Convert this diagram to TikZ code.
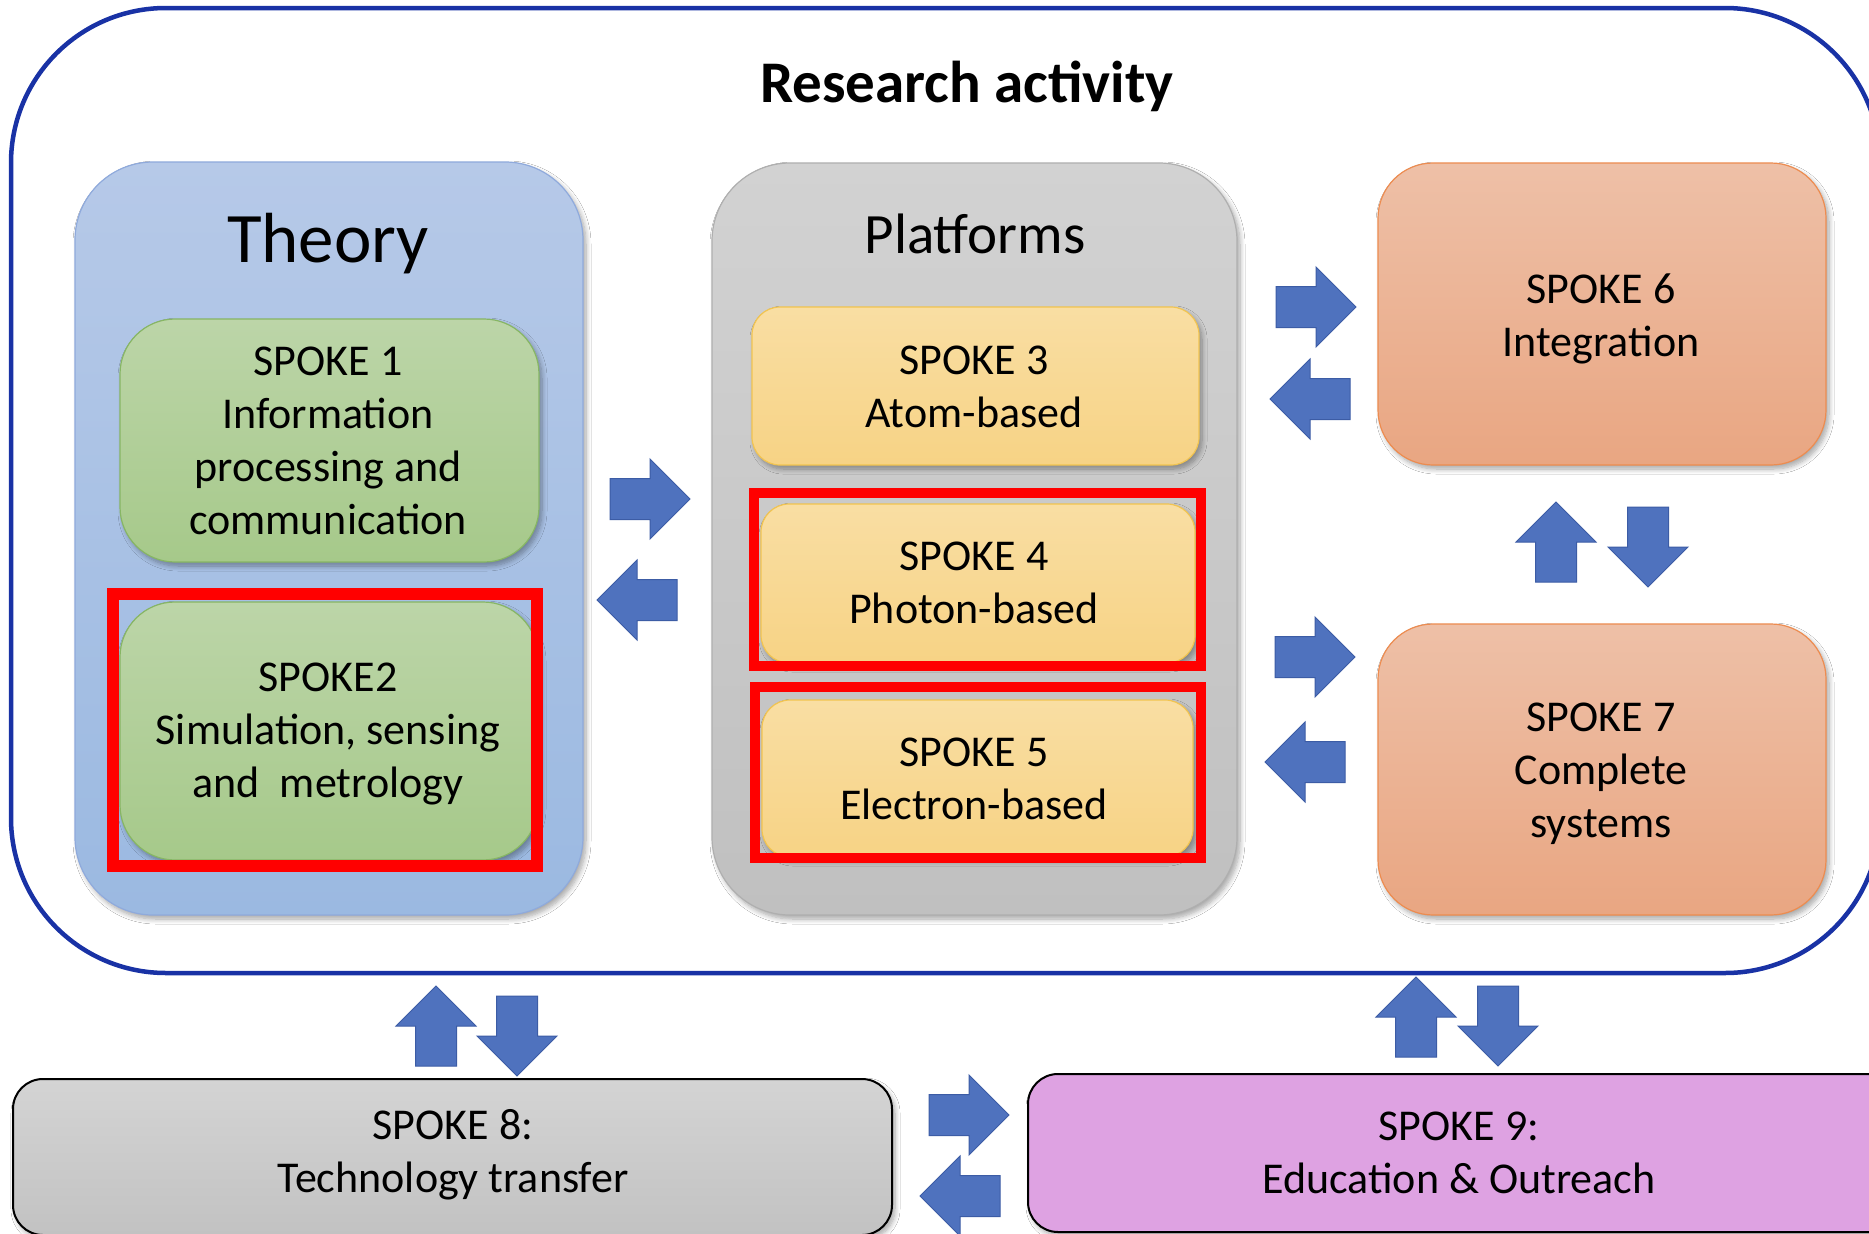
\documentclass[tikz,border=0pt]{standalone}
\usepackage{fontspec}
\setmainfont{Carlito}
\usetikzlibrary{shadows,shadows.blur}
\definecolor{outerblue}{RGB}{25,50,165}
\definecolor{thtop}{RGB}{182,201,232}
\definecolor{thbot}{RGB}{155,185,225}
\definecolor{thline}{RGB}{143,170,220}
\definecolor{grtop}{RGB}{188,213,168}
\definecolor{grbot}{RGB}{166,201,138}
\definecolor{grline}{RGB}{135,182,100}
\definecolor{pltop}{RGB}{210,210,210}
\definecolor{plbot}{RGB}{192,192,192}
\definecolor{plline}{RGB}{175,175,175}
\definecolor{yetop}{RGB}{249,222,163}
\definecolor{yebot}{RGB}{247,211,133}
\definecolor{yeline}{RGB}{242,196,80}
\definecolor{ortop}{RGB}{238,192,167}
\definecolor{orbot}{RGB}{233,166,130}
\definecolor{orline}{RGB}{237,140,80}
\definecolor{s8top}{RGB}{212,212,212}
\definecolor{s8bot}{RGB}{194,194,194}
\definecolor{s9fill}{RGB}{222,162,226}
\definecolor{arrfill}{RGB}{79,114,190}
\definecolor{arrline}{RGB}{60,92,165}
\definecolor{frred}{RGB}{255,0,0}
\newcommand\spkfont{\fontsize{44}{53}\selectfont}
\tikzset{
  softshadow/.style={blur shadow={shadow xshift=3pt, shadow yshift=-4pt, shadow blur radius=5pt, shadow blur steps=8, shadow opacity=35}},
  boxbase/.style={inner sep=0pt, outer sep=0pt, line width=1.2pt, softshadow},
  theorybox/.style={boxbase, draw=thline, top color=thtop, bottom color=thbot, rounded corners=78pt},
  greenbox/.style={boxbase, draw=grline, top color=grtop, bottom color=grbot, rounded corners=55pt},
  platbox/.style={boxbase, draw=plline, top color=pltop, bottom color=plbot, rounded corners=78pt},
  yellowbox/.style={boxbase, draw=yeline, top color=yetop, bottom color=yebot, rounded corners=28pt},
  orangebox/.style={boxbase, draw=orline, top color=ortop, bottom color=orbot, rounded corners=55pt},
  grayfoot/.style={boxbase, draw=black, line width=2pt, top color=s8top, bottom color=s8bot, rounded corners=30pt},
  pinkfoot/.style={boxbase, draw=black, line width=2pt, fill=s9fill, rounded corners=30pt},
  redframe/.style={draw=frred, inner sep=0pt, outer sep=0pt, miter limit=10},
  spklabel/.style={anchor=north, inner sep=0pt, align=center, font=\spkfont},
  barrow/.pic={\fill[arrfill, draw=arrline, line width=1pt] (-40,-20.5) -- (0,-20.5) -- (0,-40) -- (40,0) -- (0,40) -- (0,20.5) -- (-40,20.5) -- cycle;}
}
\begin{document}
\begin{tikzpicture}[x=1pt,y=-1pt]
\clip (0,0) rectangle (1869,1234);
\fill[white] (0,0) rectangle (1869,1234);

% outer research activity frame
\node[draw=outerblue, line width=4.5pt, rounded corners=155pt, inner sep=0pt,
      minimum width=1869pt, minimum height=965pt] (outer) at (945.5,490.5) {};
\node[anchor=base, inner sep=0pt, font=\fontsize{59}{70}\selectfont\bfseries] (title) at (967,102) {Research activity};

% group boxes
\node[theorybox, minimum width=508pt, minimum height=753pt] (theory) at (329,538.5) {};
\node[platbox, minimum width=525pt, minimum height=752pt] (platforms) at (974.5,539) {};
\node[anchor=base, inner sep=0pt, font=\fontsize{71}{85}\selectfont] (theorytitle) at (328,262) {Theory};
\node[anchor=base, inner sep=0pt, font=\fontsize{57}{68}\selectfont] (plattitle) at (975,253) {Platforms};

% spokes
\node[greenbox, minimum width=419pt, minimum height=243pt] (s1) at (329.5,440.5) {};
\node[greenbox, minimum width=418pt, minimum height=258pt] (s2) at (329,731) {};
\node[yellowbox, minimum width=447pt, minimum height=158pt] (s3) at (975.5,386) {};
\node[yellowbox, minimum width=434pt, minimum height=159pt] (s4) at (978,583.5) {};
\node[yellowbox, minimum width=431pt, minimum height=157pt] (s5) at (977.5,778.5) {};
\node[orangebox, minimum width=448pt, minimum height=302pt] (s6) at (1602,314) {};
\node[orangebox, minimum width=448pt, minimum height=291pt] (s7) at (1602,769.5) {};
\node[grayfoot, minimum width=879pt, minimum height=156pt] (s8) at (452.5,1157) {};
\node[pinkfoot, minimum width=872pt, minimum height=158pt] (s9) at (1464,1153) {};

% red highlight frames
\node[redframe, line width=12pt, minimum width=424pt, minimum height=272pt] (r2) at (325,730) {};
\node[redframe, line width=10pt, minimum width=447pt, minimum height=173pt] (r4) at (977.5,579.5) {};
\node[redframe, line width=10pt, minimum width=446pt, minimum height=171pt] (r5) at (978,772.5) {};

% labels
\node[spklabel] (l1) at (328,347) {SPOKE 1\\Information\\processing and\\communication};
\node[spklabel] (l2) at (328,663) {SPOKE2\\Simulation, sensing\\and\ \ metrology};
\node[spklabel] (l3) at (974,346) {SPOKE 3\\Atom-based};
\node[spklabel] (l4) at (974,542) {SPOKE 4\\Photon-based};
\node[spklabel] (l5) at (974,738) {SPOKE 5\\Electron-based};
\node[spklabel] (l6) at (1601,274) {SPOKE 6\\Integration};
\node[spklabel] (l7) at (1601,703) {SPOKE 7\\Complete\\systems};
\node[spklabel] (l8) at (453,1109) {SPOKE 8:\\Technology transfer};
\node[spklabel] (l9) at (1459,1112) {SPOKE 9:\\Education \& Outreach};

% block arrows
\pic (a1) at (650,499) {barrow};
\pic[rotate=180] (a2) at (637,600) {barrow};
\pic (a3) at (1316,307) {barrow};
\pic[rotate=180] (a4) at (1310,399) {barrow};
\pic (a5) at (1315,657) {barrow};
\pic[rotate=180] (a6) at (1305,762) {barrow};
\pic[rotate=90] (a7) at (1556,542) {barrow};
\pic[rotate=-90] (a8) at (1648,547) {barrow};
\pic[rotate=90] (a9) at (436,1026) {barrow};
\pic[rotate=-90] (a10) at (517,1036) {barrow};
\pic[rotate=90] (a11) at (1416,1017) {barrow};
\pic[rotate=-90] (a12) at (1498,1026) {barrow};
\pic (a13) at (969,1115) {barrow};
\pic[rotate=180] (a14) at (960,1196) {barrow};
\end{tikzpicture}
\end{document}
